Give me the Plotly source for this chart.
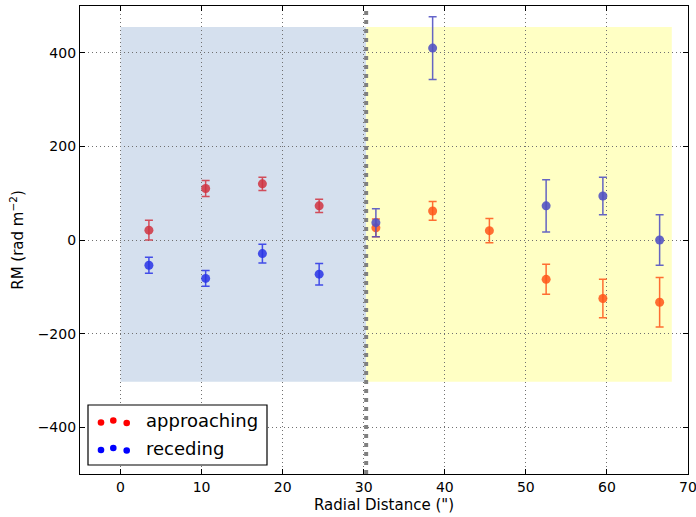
import plotly.graph_objects as go

# ---- data ----
x_inner = [3.5, 10.5, 17.5, 24.5]
app_inner = [21, 110, 120, 73]
app_inner_err = [21, 17, 14, 14]
rec_inner = [-54, -82, -29, -73]
rec_inner_err = [17, 17, 20, 23]

x_outer = [31.5, 38.5, 45.5, 52.5, 59.5, 66.5]
app_outer = [26, 62, 20, -84, -125, -133]
app_outer_err = [19, 20, 26, 32, 41, 53]
x_outer_rec = [31.5, 38.5, 52.5, 59.5, 66.5]
rec_outer = [37, 410, 73, 94, 0]
rec_outer_err = [30, 67, 56, 40, 54]

inner_region = [0, 30.3]
outer_region = [30.3, 68]
region_y = [-303, 455]
divider_x = 30.3

legend_labels = ["approaching", "receding"]
legend_colors = ["#ff0000", "#0000ff"]

fig = go.Figure()

def add_series(xs, ys, errs, color):
    fig.add_trace(go.Scatter(
        x=xs, y=ys, mode="markers",
        marker=dict(size=9, color=color, line=dict(width=0)),
        error_y=dict(type="data", array=errs, visible=True, color=color,
                     thickness=1.5, width=4),
        showlegend=False, hoverinfo="skip"))

add_series(x_inner, app_inner, app_inner_err, "rgba(208,50,64,0.85)")
add_series(x_inner, rec_inner, rec_inner_err, "rgba(40,50,230,0.85)")
add_series(x_outer, app_outer, app_outer_err, "rgba(255,85,25,0.85)")
add_series(x_outer_rec, rec_outer, rec_outer_err, "rgba(80,80,195,0.88)")

shapes = []
shapes.append(dict(type="rect", xref="x", yref="y", x0=inner_region[0], x1=inner_region[1],
                   y0=region_y[0], y1=region_y[1], fillcolor="#d5e0ee", line=dict(width=0),
                   layer="below"))
shapes.append(dict(type="rect", xref="x", yref="y", x0=outer_region[0], x1=outer_region[1],
                   y0=region_y[0], y1=region_y[1], fillcolor="#ffffc4", line=dict(width=0),
                   layer="below"))
shapes.append(dict(type="line", xref="x", yref="paper", x0=divider_x, x1=divider_x,
                   y0=0, y1=1, line=dict(color="#808080", width=4, dash="4px,5px")))

# legend (drawn manually, matplotlib style with three dots)
L, R, T, B = 80, 688, 6, 474
def px(xp):
    return (xp - L) / (R - L)
def py(yp):
    return (B - yp) / (B - T)

shapes.append(dict(type="rect", xref="paper", yref="paper", x0=px(88), x1=px(267),
                   y0=py(465), y1=py(405), fillcolor="white",
                   line=dict(color="black", width=1.2)))
annotations = []
rows = [421.5, 449]
dot_x = [101, 113.3, 126.7]
dot_dy = [1, -1, 1.5]
for label, color, ry in zip(legend_labels, legend_colors, rows):
    for dx, ddy in zip(dot_x, dot_dy):
        r = 3.3
        shapes.append(dict(type="circle", xref="paper", yref="paper",
                           x0=px(dx - r), x1=px(dx + r),
                           y0=py(ry + ddy + r), y1=py(ry + ddy - r),
                           fillcolor=color, line=dict(width=0)))
    annotations.append(dict(xref="paper", yref="paper", x=px(144), y=py(ry - 1),
                            text=label, showarrow=False, xanchor="left", yanchor="middle",
                            font=dict(size=18, color="black", family="DejaVu Sans")))

axis_common = dict(showline=True, linecolor="black", linewidth=1.2, mirror="ticks",
                   ticks="inside", ticklen=5, tickcolor="black",
                   showgrid=True, gridcolor="#707070", griddash="1px,3px", gridwidth=1,
                   zeroline=False, tickfont=dict(size=14, color="black"),
                   automargin=False, ticklabeloverflow="allow")

fig.update_layout(
    width=696, height=517,
    margin=dict(l=80, r=8, t=6, b=43),
    plot_bgcolor="white", paper_bgcolor="white",
    font=dict(family="DejaVu Sans", color="black"),
    shapes=shapes, annotations=annotations,
    xaxis=dict(range=[-5, 70.0001], tickvals=[0, 10, 20, 30, 40, 50, 60, 70],
               title=dict(text="Radial Distance (\")", font=dict(size=15), standoff=5),
               **axis_common),
    yaxis=dict(range=[-500, 500], tickvals=[-400, -200, 0, 200, 400],
               ticktext=["\u2212400", "\u2212200", "0", "200", "400"],
               title=dict(text="RM (rad m<sup>\u22122</sup>)", font=dict(size=15), standoff=10),
               **axis_common),
)

fig.write_html("out.html", config={"displayModeBar": False},
               post_script="document.body.style.margin='0px';")
